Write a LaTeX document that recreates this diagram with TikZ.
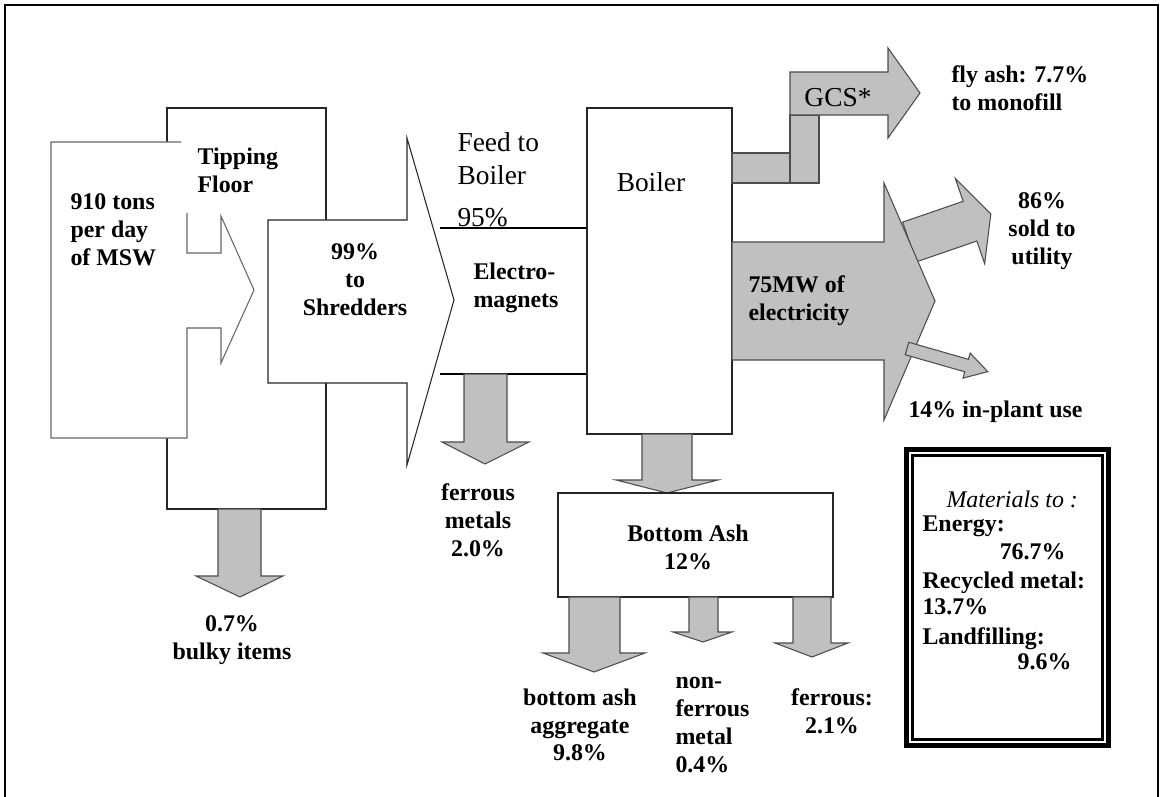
\documentclass[tikz,border=0pt]{standalone}
\usepackage{fontspec}
\setmainfont{Liberation Serif}
\definecolor{flowgray}{RGB}{192,192,192}

\begin{document}
\begin{tikzpicture}[x=0.02cm,y=-0.02cm,line width=0.6pt,
    blk/.style={draw=black!85,fill=white},
    flow/.style={draw=black!70,fill=flowgray},
    lbl/.style={font=\fontsize{13.6}{15.9}\selectfont\bfseries,inner sep=0pt,align=center},
    lbll/.style={lbl,align=left},
    rom/.style={font=\fontsize{15.6}{18.8}\selectfont,inner sep=0pt,align=left}]
    \useasboundingbox (0,0) rectangle (1160,797);
    \draw[line width=1.1pt] (5,797) -- (5,5) -- (1158,5) -- (1158,797);

    % tipping floor and incoming waste
    \draw[blk] (167,108) rectangle (326,509);
    \fill[white] (51,142) -- (187,142) -- (187,253) -- (221,253) -- (221,216) -- (254,290) -- (221,363) -- (221,328) -- (187,328) -- (187,438) -- (51,438) -- cycle;
    \draw[draw=black!60] (181,142) -- (51,142) -- (51,438) -- (187,438) -- (187,328) -- (221,328) -- (221,363) -- (254,290) -- (221,216) -- (221,253) -- (187,253) -- (187,213);

    % shredders
    \draw[blk] (268,220) -- (407,220) -- (407,138) -- (454,300) -- (407,465) -- (407,383) -- (268,383) -- cycle;

    % feed to boiler
    \draw (440,228) -- (587,228);
    \draw (440,374) -- (587,374);
    \draw[blk] (587,108) rectangle (732,434);

    % ferrous metals out of the magnets
    \draw[flow] (464,374) -- (507,374) -- (507,442) -- (529,442) -- (485,464) -- (442,442) -- (464,442) -- cycle;
    % bulky items
    \draw[flow] (218,509) -- (261,509) -- (261,576) -- (283,576) -- (240,597) -- (196,576) -- (218,576) -- cycle;

    % flue gas to GCS
    \draw[flow] (732,153) rectangle (790,183);
    \draw[flow] (790,115) rectangle (819,183);
    \draw[flow] (790,72) -- (888,72) -- (888,48) -- (920,93) -- (888,138) -- (888,115) -- (790,115) -- cycle;

    % electricity
    \begin{scope}[shift={(909.5,242)},rotate=19]
        \draw[flow] (0,-21) -- (64,-21) -- (64,-45) -- (86,0) -- (64,45) -- (64,21) -- (0,21) -- cycle;
    \end{scope}
    \draw[flow] (732,242) -- (884,242) -- (884,183) -- (935,301) -- (884,420) -- (884,360) -- (732,360) -- cycle;
    \begin{scope}[shift={(907,348.5)},rotate=-16]
        \draw[flow] (0,-6.5) -- (62,-6.5) -- (62,-13) -- (84,0) -- (62,13) -- (62,6.5) -- (0,6.5) -- cycle;
    \end{scope}

    % bottom ash
    \draw[flow] (642,434) -- (692,434) -- (692,480) -- (718,480) -- (667,493) -- (616,480) -- (642,480) -- cycle;
    \draw[blk] (558,493) rectangle (833,597);
    \draw[flow] (569,597) -- (620,597) -- (620,653) -- (645,653) -- (594,672) -- (543,653) -- (569,653) -- cycle;
    \draw[flow] (689,597) -- (718,597) -- (718,632) -- (732,632) -- (703,642) -- (673,632) -- (689,632) -- cycle;
    \draw[flow] (793,597) -- (831,597) -- (831,643) -- (848,643) -- (812,657) -- (775,643) -- (793,643) -- cycle;

    % summary box
    \draw[line width=2.8pt] (906.5,449.5) rectangle (1108.5,745.5);
    \draw[line width=1.7pt] (912.5,455.5) rectangle (1102.5,739.5);

    \node[lbll,anchor=north west] (msw) at (70,193) {910 tons\\per day\\of MSW};
    \node[lbll,anchor=north west] (tipfloor) at (197,147) {Tipping\\Floor};
    \node[lbl,anchor=north] (shred) at (355,243) {99\%\\to\\Shredders};
    \node[rom,anchor=north west] (feed) at (457,132) {Feed to\\Boiler};
    \node[rom,anchor=north west] (p95) at (457,208) {95\%};
    \node[lbll,anchor=north west] (emag) at (473,262) {Electro-\\magnets};
    \node[rom,anchor=north] (boil) at (651,172) {Boiler};
    \node[rom,anchor=north] (gcs) at (838,88) {GCS*};
    \node[lbll,anchor=north west] (fly) at (951,65) {fly ash: 7.7\%\\to monofill};
    \node[lbll,anchor=north west] (elec) at (748,275) {75MW of\\electricity};
    \node[lbl,anchor=north] (sold) at (1042,192) {86\%\\sold to\\utility};
    \node[lbll,anchor=north west] (inplant) at (908,400) {14\% in-plant use};
    \node[lbl,anchor=north] (fmet) at (478,483) {ferrous\\metals\\2.0\%};
    \node[lbl,anchor=north] (bulky) at (232,615) {0.7\%\\bulky items};
    \node[lbl,anchor=north] (ash) at (688,524) {Bottom Ash\\12\%};
    \node[lbl,anchor=north] (agg) at (580,688) {bottom ash\\aggregate\\9.8\%};
    \node[lbll,anchor=north west] (nonfer) at (675,677) {non-\\ferrous\\metal\\0.4\%};
    \node[lbl,anchor=north] (fer) at (832,688) {ferrous:\\2.1\%};

    \node[font=\fontsize{13.6}{15.9}\selectfont\itshape,inner sep=0pt,anchor=north west] (mat) at (946,490) {Materials to :};
    \node[lbll,anchor=north west] (energy) at (922,515) {Energy:};
    \node[lbll,anchor=north east] (pcte) at (1066,543) {76.7\%};
    \node[lbll,anchor=north west] (recyc) at (922,571) {Recycled metal:};
    \node[lbll,anchor=north west] (pctr) at (922,598) {13.7\%};
    \node[lbll,anchor=north west] (landf) at (922,627) {Landfilling:};
    \node[lbll,anchor=north east] (pctl) at (1072,653) {9.6\%};
\end{tikzpicture}
\end{document}
